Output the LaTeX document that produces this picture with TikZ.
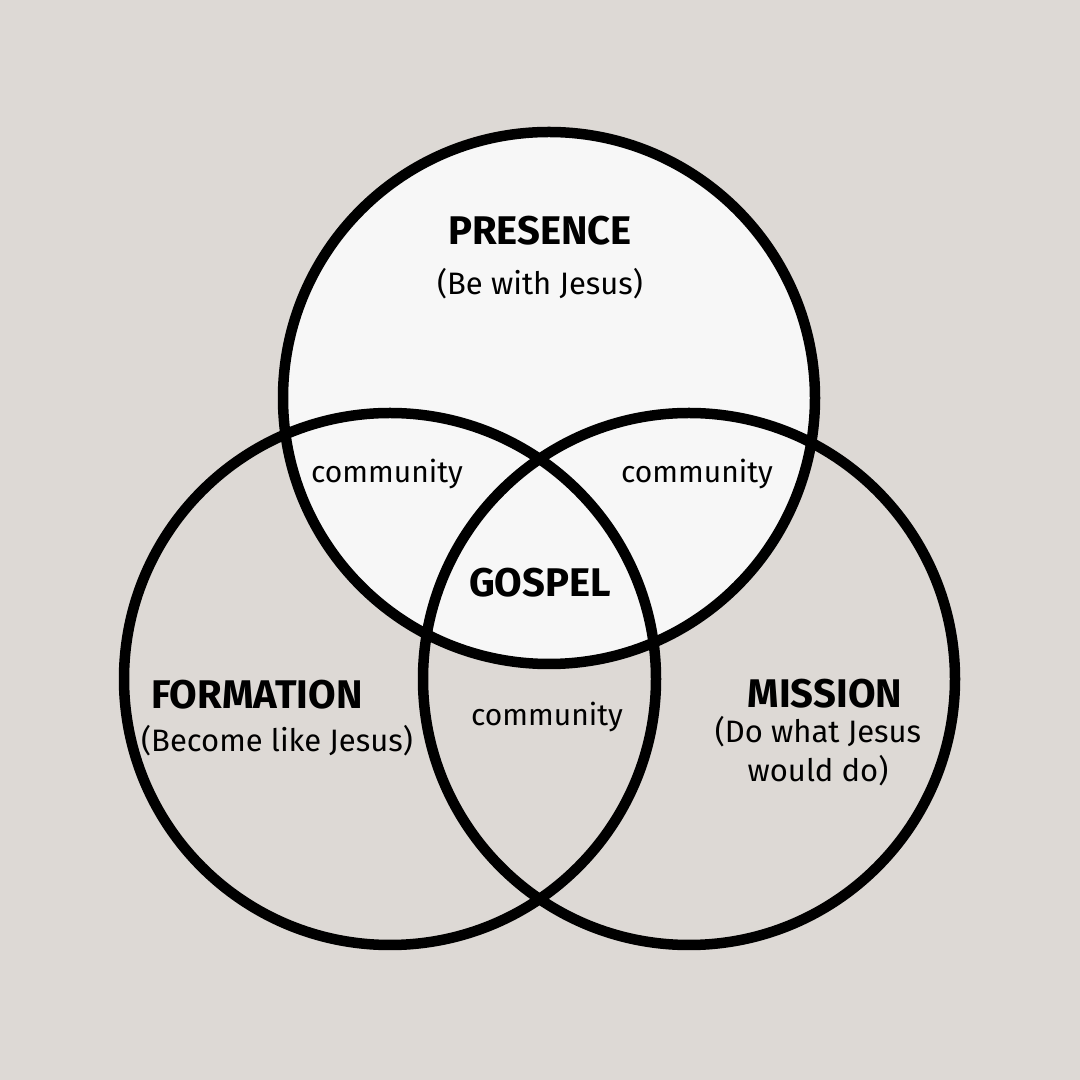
\documentclass[tikz,border=0pt]{standalone}
\usepackage{fontspec}
\setmainfont{Fira Sans}
\usetikzlibrary{positioning}
\definecolor{bgbeige}{RGB}{221,217,213}
\definecolor{paleface}{RGB}{247,247,247}
\tikzset{
  ring/.style ={draw=black, line width=10.5pt},
  head/.style ={font=\fontsize{40}{40}\selectfont\bfseries, anchor=base, inner sep=0pt},
  sub/.style  ={font=\fontsize{31}{39}\selectfont, anchor=base, inner sep=0pt, align=center},
  comm/.style ={font=\fontsize{30}{30}\selectfont, anchor=base, inner sep=0pt}
}
\begin{document}
\begin{tikzpicture}[x=1pt, y=1pt]
% Canvas
\fill[bgbeige] (0,0) rectangle (1080,1080);
\useasboundingbox (0,0) rectangle (1080,1080);

% Circle centres
\coordinate (cpres) at (549,682);
\coordinate (cform) at (390,401);
\coordinate (cmiss) at (689,401);

% Circles (top one filled first, outlines on top)
\fill[paleface] (cpres) circle (266);
\draw[ring] (cpres) circle (266);
\draw[ring] (cform) circle (266);
\draw[ring] (cmiss) circle (266);

% Labels
\node[head] (pres) at (540,835) {PRESENCE};
\node[sub]  (presx) at (540,785) {(Be with Jesus)};
\node[head] (form) at (257,371) {FORMATION};
\node[sub]  (formx) at (277,328) {(Become like Jesus)};
\node[head] (miss) at (825,372) {MISSION};
% base anchor of a two-line node sits on the last line
\node[sub]  (missx) at (818,298) {(Do what Jesus\\would do)};
\node[head] (gosp) at (540,483) {GOSPEL};

\node[comm] (commL) at (387,597) {community};
\node[comm] (commR) at (697,597) {community};
\node[comm] (commB) at (547,354) {community};
\end{tikzpicture}
\end{document}
